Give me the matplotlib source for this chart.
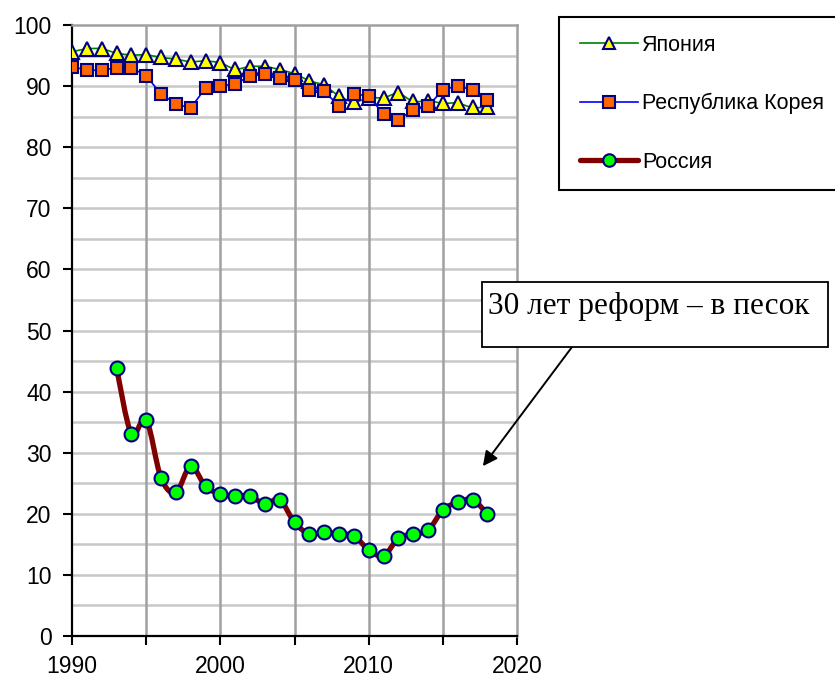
import numpy as np
import matplotlib
matplotlib.use("Agg")
import matplotlib.pyplot as plt
from matplotlib.path import Path
from matplotlib.patches import PathPatch, Rectangle
from matplotlib.lines import Line2D

years_jk = np.arange(1990, 2019)
japan = [95.6, 96.1, 96.1, 95.4, 95.1, 95.1, 94.7, 94.4, 94.0, 94.1,
         93.8, 92.8, 93.2, 93.2, 92.7, 92.0, 90.9, 90.1, 88.4, 87.4,
         88.1, 88.1, 88.8, 87.5, 87.6, 87.2, 87.2, 86.5, 86.6]
korea = [93.2, 92.6, 92.6, 93.0, 93.0, 91.7, 88.7, 87.1, 86.4, 89.7,
         90.0, 90.4, 91.6, 92.0, 91.3, 91.0, 89.4, 89.2, 86.7, 88.7,
         88.4, 85.4, 84.5, 86.1, 86.7, 89.4, 90.0, 89.4, 87.8]
years_ru = np.arange(1993, 2019)
russia = [43.9, 33.1, 35.4, 25.9, 23.5, 27.8, 24.5, 23.2, 22.9, 22.9,
          21.6, 22.3, 18.6, 16.7, 17.0, 16.7, 16.4, 14.1, 13.1, 16.0,
          16.7, 17.3, 20.6, 21.9, 22.3, 20.0]
labels = ["Япония", "Республика Корея", "Россия"]
note = "30 лет реформ – в песок"

plt.rcParams['font.family'] = ['Liberation Sans', 'DejaVu Sans']


def smooth_path(x, y):
    # excel-like smoothed line: cubic bezier segments through the points
    pts = np.column_stack([x, y]).astype(float)
    n = len(pts)
    verts = [pts[0]]
    codes = [Path.MOVETO]
    for i in range(n - 1):
        p0 = pts[i - 1] if i > 0 else pts[i]
        p1 = pts[i]
        p2 = pts[i + 1]
        p3 = pts[i + 2] if i + 2 < n else pts[i + 1]
        verts += [p1 + (p2 - p0) / 6, p2 - (p3 - p1) / 6, p2]
        codes += [Path.CURVE4] * 3
    return Path(verts, codes)


W, H = 835, 677
fig = plt.figure(figsize=(W / 100, H / 100), dpi=100)
ax = fig.add_axes([72 / W, 1 - 636 / H, (517 - 72) / W, (636 - 25) / H])

ax.set_xlim(1990, 2020)
ax.set_ylim(0, 100)

# grid
for yv in range(5, 100, 5):
    ax.axhline(yv, color='#c8c8c8', lw=1.8, zorder=0)
for xv in range(1995, 2020, 5):
    ax.axvline(xv, color='#a0a0a0', lw=1.8, zorder=0)

navy = '#000080'
ax.add_patch(PathPatch(smooth_path(years_jk, japan), fc='none', ec='#008000',
                       lw=1.2, zorder=2))
ax.plot(years_jk, japan, ls='none', marker='^', ms=10, mfc='#ffff00',
        mec=navy, mew=1.5, zorder=3)
ax.plot(years_jk, korea, color='#0000ff', lw=1.2, zorder=4)
ax.plot(years_jk, korea, ls='none', marker='s', ms=8.5, mfc='#ff6600',
        mec=navy, mew=1.5, zorder=5)
ax.add_patch(PathPatch(smooth_path(years_ru, russia), fc='none', ec='#800000',
                       lw=3.8, capstyle='round', joinstyle='round', zorder=6))
ax.plot(years_ru, russia, ls='none', marker='o', ms=10, mfc='#00ff00',
        mec=navy, mew=1.5, zorder=7)

ax.set_xticks(range(1990, 2021, 5))
ax.set_xticklabels([str(v) if v % 10 == 0 else '' for v in range(1990, 2021, 5)])
ax.set_yticks(range(0, 101, 10))
ax.tick_params(labelsize=16.5, length=6.3, width=1.5, color='black')
ax.tick_params(axis='x', pad=7.5)
ax.tick_params(axis='y', pad=8.3)
for s in ['left', 'bottom']:
    ax.spines[s].set_color('black')
    ax.spines[s].set_linewidth(1.6)
for s in ['top', 'right']:
    ax.spines[s].set_color('#a0a0a0')
    ax.spines[s].set_linewidth(1.8)

# legend
handles = [
    Line2D([], [], color='#008000', lw=1.2, marker='^', ms=9, mfc='#ffff00',
           mec=navy, mew=1.5),
    Line2D([], [], color='#0000ff', lw=1.2, marker='s', ms=8, mfc='#ff6600',
           mec=navy, mew=1.5),
    Line2D([], [], color='#800000', lw=3.8, marker='o', ms=9, mfc='#00ff00',
           mec=navy, mew=1.5, solid_capstyle='round'),
]
fig.patches.append(Rectangle((559 / W, 1 - 190 / H), 300 / W, (190 - 17) / H,
                             transform=fig.transFigure, fc='white', ec='black',
                             lw=1.5, zorder=0))
leg = fig.legend(handles, labels, loc='upper left',
                 bbox_to_anchor=(569 / W, 1 - 24 / H), frameon=False,
                 fontsize=15.5, handlelength=2.7, handletextpad=0.2,
                 labelspacing=1.73, borderpad=0)

# annotation
fig.patches.append(Rectangle((482 / W, 1 - 347 / H), (828 - 482) / W, 65 / H,
                             transform=fig.transFigure, fc='white', ec='black',
                             lw=1.3, zorder=10))
fig.text(488 / W, 1 - 314 / H, note, ha='left', va='baseline', fontsize=22.5,
         family=['Liberation Serif', 'DejaVu Serif'], zorder=11)
ax.annotate('', xy=(2017.7, 27.8), xycoords='data',
            xytext=(572 / W, 1 - 347 / H), textcoords='figure fraction',
            arrowprops=dict(arrowstyle='-|>', color='black', lw=1.4,
                            mutation_scale=22, shrinkA=0, shrinkB=0),
            annotation_clip=False)

fig.savefig('out.png', dpi=100)
